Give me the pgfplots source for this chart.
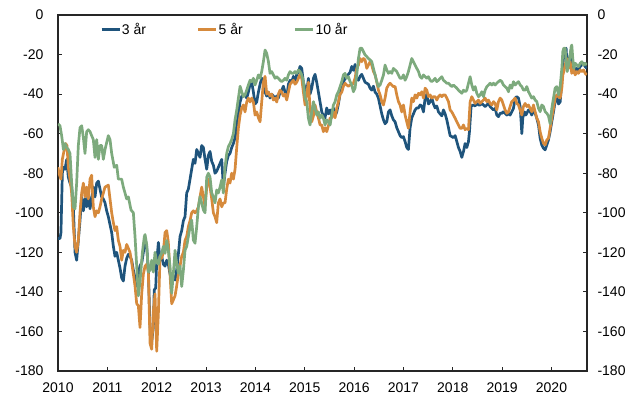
\documentclass[border=0pt]{standalone}
\usepackage{fontspec}
\setmainfont{Liberation Sans}
\usepackage{pgfplots}
\pgfplotsset{compat=1.18}
\definecolor{cA}{RGB}{31,84,124}
\definecolor{cB}{RGB}{214,138,60}
\definecolor{cC}{RGB}{125,170,125}
\begin{document}
\begin{tikzpicture}
\begin{axis}[name=main, scale only axis, width=529pt, height=356pt,
  xmin=2010, xmax=2020.72, ymin=-180, ymax=0,
  xtick={2010,2011,2012,2013,2014,2015,2016,2017,2018,2019,2020},
  xticklabels={2010,2011,2012,2013,2014,2015,2016,2017,2018,2019,2020},
  ytick={-180,-160,-140,-120,-100,-80,-60,-40,-20,0},
  yticklabels={-180,-160,-140,-120,-100,-80,-60,-40,-20,0},
  tick align=inside, xtick pos=bottom, ytick pos=both,
  major tick length=4pt, tick style={black!85, line width=0.8pt},
  axis line style={black!85, line width=1.1pt},
  ticklabel style={font=\fontsize{14pt}{16pt}\selectfont},
  yticklabel style={xshift=-11pt},
  xticklabel style={yshift=-8pt},
  legend columns=3,
  legend style={at={(0.0794,0.96)}, anchor=west, draw=none, fill=none, inner sep=0pt,
    font=\fontsize{14pt}{16pt}\selectfont, nodes={inner sep=1pt},
    /tikz/every even column/.append style={column sep=50pt}},
  legend image code/.code={\draw[#1] (0pt,0pt) -- (18pt,0pt);},
  every axis plot/.append style={line width=2.7pt, line join=round},
]
\addplot[cA] coordinates {(2010.000,-113)(2010.040,-113)(2010.060,-110)(2010.088,-80)(2010.108,-77)(2010.142,-78)(2010.176,-73)(2010.209,-82)(2010.243,-85)(2010.277,-87)(2010.311,-97)(2010.345,-120)(2010.378,-124)(2010.412,-114)(2010.446,-104)(2010.480,-92)(2010.514,-99)(2010.547,-93)(2010.581,-97)(2010.615,-90)(2010.649,-98)(2010.682,-93)(2010.716,-87)(2010.750,-92)(2010.784,-85)(2010.818,-84)(2010.851,-88)(2010.885,-92)(2010.919,-93)(2010.953,-95)(2010.986,-99)(2011.020,-102)(2011.054,-106)(2011.088,-110)(2011.122,-117)(2011.155,-122)(2011.189,-120)(2011.223,-124)(2011.257,-128)(2011.291,-133)(2011.324,-134.5)(2011.358,-127)(2011.392,-123)(2011.426,-121)(2011.459,-122)(2011.493,-124)(2011.527,-129)(2011.561,-133)(2011.595,-137)(2011.630,-131)(2011.660,-127)(2011.700,-125)(2011.730,-120)(2011.763,-113)(2011.797,-117)(2011.831,-129)(2011.865,-158)(2011.899,-165)(2011.932,-158)(2011.950,-139)(2011.980,-138)(2012.000,-125)(2012.034,-115)(2012.068,-124)(2012.101,-122)(2012.135,-126)(2012.169,-127)(2012.203,-124)(2012.236,-126)(2012.270,-131)(2012.304,-131)(2012.338,-132)(2012.372,-134)(2012.405,-129)(2012.439,-121)(2012.473,-112)(2012.507,-109)(2012.541,-104)(2012.574,-102)(2012.608,-90)(2012.642,-88)(2012.676,-83)(2012.709,-78)(2012.743,-73)(2012.777,-75)(2012.811,-68)(2012.845,-70)(2012.878,-72)(2012.912,-66)(2012.946,-67)(2012.980,-73)(2013.014,-78)(2013.047,-71)(2013.081,-69)(2013.115,-74)(2013.149,-76)(2013.182,-80)(2013.216,-79)(2013.250,-77)(2013.284,-75)(2013.318,-73)(2013.351,-87)(2013.385,-80)(2013.419,-74)(2013.453,-71)(2013.486,-70)(2013.520,-67)(2013.554,-65)(2013.588,-62)(2013.622,-56)(2013.656,-50)(2013.690,-44)(2013.723,-41)(2013.757,-41)(2013.790,-40)(2013.824,-42)(2013.858,-39)(2013.892,-35)(2013.926,-34)(2013.960,-39)(2013.993,-45)(2014.027,-44)(2014.061,-39)(2014.095,-35)(2014.128,-32)(2014.162,-33)(2014.196,-39)(2014.230,-41)(2014.264,-39)(2014.297,-42)(2014.331,-40)(2014.365,-41)(2014.399,-42)(2014.433,-41)(2014.466,-42)(2014.500,-39)(2014.534,-38)(2014.568,-36)(2014.601,-39)(2014.635,-42)(2014.669,-35)(2014.703,-33)(2014.737,-34)(2014.770,-31)(2014.804,-34)(2014.838,-30)(2014.872,-29)(2014.905,-26)(2014.939,-27)(2014.973,-34)(2015.007,-37)(2015.041,-39)(2015.074,-32)(2015.108,-40)(2015.142,-37)(2015.176,-32)(2015.209,-30)(2015.243,-34)(2015.277,-39)(2015.311,-44)(2015.345,-49)(2015.378,-51)(2015.412,-52)(2015.446,-47)(2015.480,-50)(2015.514,-48)(2015.547,-51)(2015.581,-47)(2015.615,-51)(2015.649,-49)(2015.682,-45)(2015.716,-40)(2015.750,-37)(2015.784,-34)(2015.818,-32)(2015.851,-31)(2015.885,-30)(2015.919,-29)(2015.953,-26)(2015.986,-28)(2016.020,-25)(2016.054,-32)(2016.088,-33)(2016.122,-31)(2016.155,-30)(2016.189,-32)(2016.223,-34)(2016.257,-34.5)(2016.290,-35)(2016.324,-37)(2016.358,-38)(2016.392,-36)(2016.426,-39)(2016.459,-40)(2016.493,-42)(2016.527,-46)(2016.561,-50)(2016.595,-53)(2016.628,-55)(2016.662,-54)(2016.696,-49)(2016.730,-48)(2016.764,-51)(2016.797,-53)(2016.831,-54)(2016.865,-57)(2016.899,-59)(2016.932,-61)(2016.966,-62)(2017.000,-61.5)(2017.034,-64)(2017.067,-67)(2017.101,-68)(2017.135,-57)(2017.169,-52)(2017.203,-50)(2017.236,-48)(2017.270,-47)(2017.305,-47)(2017.338,-45.5)(2017.372,-46)(2017.406,-49)(2017.440,-42)(2017.473,-40)(2017.507,-45)(2017.541,-44)(2017.575,-42)(2017.609,-45)(2017.642,-47)(2017.676,-46)(2017.710,-49)(2017.744,-50)(2017.778,-51)(2017.811,-48)(2017.845,-50)(2017.879,-53)(2017.913,-57)(2017.946,-61)(2017.980,-61.5)(2018.014,-62)(2018.048,-61)(2018.082,-64)(2018.115,-67)(2018.149,-69)(2018.183,-72)(2018.217,-69)(2018.250,-65)(2018.284,-67)(2018.318,-64)(2018.338,-59)(2018.372,-46)(2018.419,-45.5)(2018.453,-46)(2018.487,-44.7)(2018.521,-45.5)(2018.555,-45.5)(2018.588,-44.7)(2018.622,-45.5)(2018.656,-46.3)(2018.690,-45.5)(2018.723,-44.7)(2018.757,-46.3)(2018.791,-47.2)(2018.825,-48)(2018.858,-47.2)(2018.892,-50.6)(2018.926,-51.4)(2018.960,-49.7)(2018.994,-49.7)(2019.027,-48.9)(2019.061,-49.7)(2019.095,-50.6)(2019.129,-49.7)(2019.162,-50.6)(2019.196,-48.9)(2019.230,-47.2)(2019.264,-42)(2019.297,-41.3)(2019.331,-42)(2019.365,-46.3)(2019.385,-54)(2019.399,-60)(2019.419,-52)(2019.453,-49)(2019.480,-50.6)(2019.500,-49.7)(2019.534,-48)(2019.568,-48.9)(2019.601,-50.6)(2019.635,-48)(2019.669,-49.7)(2019.703,-52.2)(2019.737,-55.6)(2019.770,-62.3)(2019.804,-65.7)(2019.838,-67.4)(2019.872,-68.2)(2019.906,-65.7)(2019.939,-63.2)(2019.973,-59)(2020.007,-53.9)(2020.041,-48.9)(2020.074,-43.8)(2020.108,-41.3)(2020.142,-45)(2020.176,-44)(2020.210,-33.7)(2020.230,-25.3)(2020.250,-20.2)(2020.277,-18.5)(2020.297,-16.8)(2020.318,-27)(2020.338,-21.9)(2020.358,-23.6)(2020.378,-20.2)(2020.399,-17.7)(2020.412,-27)(2020.446,-25.3)(2020.480,-28.6)(2020.514,-27)(2020.547,-27.8)(2020.581,-26.1)(2020.615,-25.3)(2020.649,-24.4)(2020.683,-26.1)(2020.716,-27)};
\addlegendentry{3 år}
\addplot[cB] coordinates {(2010.000,-77)(2010.020,-80)(2010.060,-83)(2010.088,-73)(2010.128,-68)(2010.155,-65)(2010.182,-66)(2010.209,-77)(2010.243,-83)(2010.277,-90)(2010.311,-107)(2010.345,-117)(2010.378,-120)(2010.412,-114)(2010.446,-100)(2010.480,-90)(2010.514,-85)(2010.547,-92)(2010.581,-87)(2010.615,-93)(2010.649,-83)(2010.682,-81)(2010.716,-97)(2010.750,-102)(2010.784,-99)(2010.818,-100)(2010.851,-97)(2010.885,-93)(2010.919,-90)(2010.953,-87)(2011.020,-86)(2011.054,-93)(2011.088,-100)(2011.122,-105)(2011.155,-109)(2011.189,-107)(2011.223,-114)(2011.257,-117)(2011.291,-124)(2011.324,-119)(2011.358,-120)(2011.392,-116)(2011.426,-118)(2011.459,-120)(2011.493,-125)(2011.527,-131)(2011.561,-137)(2011.595,-146)(2011.628,-147)(2011.662,-158)(2011.696,-141)(2011.730,-131)(2011.764,-127)(2011.800,-126)(2011.831,-130)(2011.865,-166)(2011.899,-169)(2011.932,-150)(2011.966,-141)(2012.000,-170)(2012.034,-151)(2012.068,-122)(2012.101,-123)(2012.135,-120)(2012.169,-110)(2012.203,-109)(2012.236,-115)(2012.270,-131)(2012.304,-146)(2012.338,-144)(2012.372,-142)(2012.405,-137)(2012.439,-131)(2012.473,-127)(2012.507,-122)(2012.541,-120)(2012.574,-114)(2012.608,-112)(2012.642,-107)(2012.676,-104)(2012.709,-100)(2012.743,-99)(2012.777,-100)(2012.811,-99)(2012.845,-97)(2012.878,-92)(2012.912,-87)(2012.946,-92)(2012.980,-97)(2013.014,-87)(2013.047,-83)(2013.081,-87)(2013.115,-93)(2013.149,-100)(2013.182,-102)(2013.216,-105)(2013.250,-95)(2013.284,-93)(2013.318,-97)(2013.351,-95)(2013.385,-95)(2013.419,-88)(2013.453,-83)(2013.486,-85)(2013.520,-80)(2013.554,-83)(2013.588,-78)(2013.622,-67)(2013.656,-57)(2013.690,-50.6)(2013.723,-47)(2013.757,-45.5)(2013.790,-49)(2013.824,-44)(2013.858,-42)(2013.892,-44)(2013.926,-42)(2013.960,-44)(2013.993,-50.6)(2014.027,-49)(2014.061,-52)(2014.095,-54)(2014.128,-44)(2014.162,-34)(2014.196,-31)(2014.230,-40)(2014.264,-39)(2014.297,-41)(2014.331,-40)(2014.365,-43)(2014.399,-42)(2014.433,-44)(2014.466,-40)(2014.500,-38)(2014.534,-39)(2014.568,-41)(2014.601,-40)(2014.635,-43)(2014.669,-39)(2014.703,-35)(2014.737,-34)(2014.770,-33)(2014.804,-35)(2014.838,-34)(2014.872,-32)(2014.905,-30)(2014.939,-32)(2014.973,-39)(2015.007,-45.5)(2015.041,-40)(2015.074,-34)(2015.108,-47)(2015.142,-54)(2015.176,-51)(2015.209,-45.5)(2015.243,-49)(2015.277,-52)(2015.311,-55.6)(2015.345,-55.6)(2015.378,-59)(2015.412,-57)(2015.446,-59)(2015.480,-56)(2015.514,-52)(2015.547,-52)(2015.581,-49)(2015.615,-52)(2015.649,-47)(2015.682,-44)(2015.716,-40)(2015.750,-39)(2015.784,-36)(2015.818,-34.5)(2015.851,-35.4)(2015.885,-36)(2015.919,-35.4)(2015.953,-35.4)(2015.986,-34.5)(2016.020,-32)(2016.054,-27)(2016.088,-25.3)(2016.122,-22)(2016.155,-23.6)(2016.189,-22)(2016.223,-22.7)(2016.257,-27)(2016.290,-25.3)(2016.324,-23.6)(2016.358,-25.3)(2016.392,-28.6)(2016.426,-30.3)(2016.459,-33.7)(2016.493,-38)(2016.527,-40.4)(2016.561,-43.8)(2016.595,-45.5)(2016.628,-42)(2016.662,-37)(2016.696,-35.4)(2016.730,-34.5)(2016.764,-35.4)(2016.797,-36.2)(2016.831,-36.2)(2016.865,-40.4)(2016.899,-43.8)(2016.932,-45.5)(2016.966,-49)(2017.000,-45.5)(2017.034,-50.6)(2017.067,-54)(2017.101,-57.3)(2017.135,-49)(2017.169,-42)(2017.203,-43.8)(2017.236,-40.4)(2017.271,-42)(2017.305,-39.6)(2017.338,-40.4)(2017.372,-38.8)(2017.406,-42)(2017.440,-37)(2017.473,-38)(2017.507,-41.3)(2017.541,-40.4)(2017.575,-42)(2017.609,-41.3)(2017.642,-41.3)(2017.676,-43)(2017.710,-41.3)(2017.744,-40.4)(2017.778,-41.3)(2017.811,-40.4)(2017.845,-40.4)(2017.879,-42)(2017.913,-43.8)(2017.946,-48)(2017.980,-49)(2018.014,-50.6)(2018.048,-52.2)(2018.082,-54)(2018.115,-55.6)(2018.149,-57.3)(2018.183,-57.3)(2018.217,-55.6)(2018.250,-58)(2018.284,-57.3)(2018.318,-58)(2018.352,-43.8)(2018.385,-41.3)(2018.419,-43)(2018.453,-44.7)(2018.487,-43.8)(2018.521,-43)(2018.555,-44.7)(2018.588,-43.8)(2018.622,-43)(2018.656,-42)(2018.690,-43.8)(2018.723,-43)(2018.757,-44.7)(2018.791,-45.5)(2018.825,-43.8)(2018.858,-44.7)(2018.892,-48)(2018.926,-43.8)(2018.960,-42)(2018.994,-43)(2019.027,-45.5)(2019.061,-48)(2019.095,-49.7)(2019.129,-48.9)(2019.162,-46.3)(2019.196,-43.8)(2019.230,-43)(2019.264,-42)(2019.297,-44.7)(2019.331,-45.5)(2019.365,-48)(2019.399,-50.6)(2019.432,-46.3)(2019.466,-44.7)(2019.500,-46.3)(2019.534,-45.5)(2019.568,-47.2)(2019.601,-48.9)(2019.635,-45.5)(2019.669,-48.9)(2019.703,-52.2)(2019.737,-54)(2019.770,-59)(2019.804,-62.3)(2019.838,-64.9)(2019.872,-65.7)(2019.906,-63.2)(2019.939,-62.3)(2019.973,-57.3)(2020.007,-52.2)(2020.041,-47.2)(2020.074,-42)(2020.108,-40.4)(2020.142,-41.3)(2020.176,-42)(2020.210,-37)(2020.230,-30.3)(2020.250,-28.6)(2020.277,-25.3)(2020.311,-22)(2020.345,-27)(2020.378,-23.6)(2020.412,-29.5)(2020.446,-27)(2020.480,-30.3)(2020.514,-28.6)(2020.547,-29.5)(2020.581,-27.8)(2020.615,-28.6)(2020.649,-27.8)(2020.683,-29.5)(2020.716,-30.3)};
\addlegendentry{5 år}
\addplot[cC] coordinates {(2010.000,-55)(2010.040,-56)(2010.074,-61)(2010.110,-68)(2010.142,-65)(2010.176,-67)(2010.209,-68)(2010.243,-70)(2010.277,-85)(2010.311,-97)(2010.345,-98)(2010.378,-85)(2010.412,-66)(2010.446,-57)(2010.480,-56)(2010.514,-62)(2010.547,-70)(2010.581,-59)(2010.615,-58)(2010.649,-59)(2010.682,-61)(2010.716,-63)(2010.750,-72)(2010.784,-63)(2010.818,-73)(2010.851,-66)(2010.885,-66)(2010.919,-73)(2010.953,-68)(2011.020,-61)(2011.054,-63)(2011.088,-70)(2011.140,-77)(2011.190,-76)(2011.223,-83)(2011.290,-83)(2011.324,-87)(2011.358,-90)(2011.392,-93)(2011.426,-92)(2011.480,-98.6)(2011.527,-100)(2011.561,-112)(2011.595,-127)(2011.628,-142)(2011.662,-135)(2011.710,-120)(2011.750,-112)(2011.764,-111)(2011.797,-116)(2011.831,-130)(2011.865,-129)(2011.899,-124)(2011.932,-130)(2011.966,-120)(2012.000,-125)(2012.034,-126)(2012.068,-122)(2012.101,-120.5)(2012.135,-117)(2012.169,-120.5)(2012.203,-114)(2012.236,-119)(2012.270,-127)(2012.304,-140.7)(2012.338,-130.6)(2012.372,-119)(2012.405,-125.6)(2012.439,-130.6)(2012.473,-127)(2012.507,-137.3)(2012.541,-129)(2012.574,-119)(2012.608,-117)(2012.642,-112)(2012.676,-107)(2012.709,-103.6)(2012.743,-113.8)(2012.777,-115.4)(2012.811,-107)(2012.845,-97)(2012.878,-91.8)(2012.912,-95)(2012.946,-98.6)(2012.980,-100)(2013.014,-82)(2013.047,-80)(2013.081,-82)(2013.115,-90)(2013.149,-92)(2013.182,-95)(2013.216,-88.5)(2013.250,-90)(2013.284,-87)(2013.318,-83.4)(2013.351,-90)(2013.385,-77)(2013.419,-70)(2013.453,-66.5)(2013.486,-65)(2013.520,-63)(2013.554,-60)(2013.588,-53)(2013.622,-48)(2013.656,-42)(2013.690,-36)(2013.723,-38.8)(2013.757,-41.3)(2013.790,-40.4)(2013.824,-38)(2013.858,-35.4)(2013.892,-33)(2013.926,-33.7)(2013.960,-32)(2013.993,-35.4)(2014.027,-33)(2014.061,-30.3)(2014.095,-32)(2014.128,-28.6)(2014.162,-23.6)(2014.196,-17.7)(2014.230,-19.4)(2014.264,-23.6)(2014.297,-29.5)(2014.331,-28.6)(2014.365,-30.3)(2014.399,-32)(2014.433,-31.2)(2014.466,-32)(2014.500,-33)(2014.534,-33.7)(2014.568,-33)(2014.601,-32)(2014.635,-33)(2014.669,-30.3)(2014.703,-28.6)(2014.737,-29.5)(2014.770,-29.5)(2014.804,-28.6)(2014.838,-29.5)(2014.872,-27.8)(2014.905,-28.6)(2014.939,-30.3)(2014.973,-33.7)(2015.007,-42)(2015.041,-43.8)(2015.074,-52.2)(2015.108,-55.6)(2015.142,-49)(2015.176,-43.8)(2015.209,-47.2)(2015.243,-50.6)(2015.277,-49)(2015.311,-52.2)(2015.345,-50.6)(2015.378,-52.2)(2015.412,-55.6)(2015.446,-53)(2015.480,-54)(2015.514,-55.6)(2015.547,-50.6)(2015.581,-45.5)(2015.615,-43.8)(2015.649,-40.4)(2015.682,-38.8)(2015.716,-36.2)(2015.750,-33.7)(2015.784,-30.3)(2015.818,-29.5)(2015.851,-32)(2015.885,-31.2)(2015.919,-33.7)(2015.953,-35.4)(2015.986,-38.8)(2016.020,-37)(2016.054,-30.3)(2016.088,-22)(2016.122,-16.8)(2016.155,-16.8)(2016.189,-18.5)(2016.223,-20.2)(2016.257,-21)(2016.290,-22)(2016.324,-22.7)(2016.358,-23.6)(2016.392,-27)(2016.426,-30.3)(2016.459,-33.7)(2016.493,-36.2)(2016.527,-35.4)(2016.561,-33)(2016.595,-30.3)(2016.628,-25.3)(2016.662,-27.8)(2016.696,-29.5)(2016.730,-28.6)(2016.764,-29.5)(2016.797,-27)(2016.831,-27.8)(2016.865,-28.6)(2016.899,-30.3)(2016.932,-32)(2016.966,-32)(2017.000,-30.3)(2017.034,-33)(2017.067,-31.2)(2017.101,-28.6)(2017.135,-25.3)(2017.169,-22)(2017.203,-23.6)(2017.236,-25.3)(2017.271,-27)(2017.305,-28.6)(2017.338,-31.2)(2017.372,-32)(2017.406,-30.3)(2017.440,-31.2)(2017.473,-32)(2017.507,-31.2)(2017.541,-33)(2017.575,-33.7)(2017.609,-33)(2017.642,-32)(2017.676,-33.7)(2017.710,-33)(2017.744,-32)(2017.778,-31.2)(2017.811,-33)(2017.845,-33.7)(2017.879,-34.5)(2017.913,-34.5)(2017.946,-35.4)(2017.980,-36.2)(2018.014,-35.4)(2018.048,-36.2)(2018.082,-37)(2018.115,-38)(2018.149,-38.8)(2018.183,-39.6)(2018.217,-38)(2018.250,-38.8)(2018.284,-38)(2018.318,-34.5)(2018.352,-31.2)(2018.385,-35.4)(2018.419,-38)(2018.453,-36.2)(2018.487,-39.6)(2018.521,-41.3)(2018.555,-40.4)(2018.588,-38.8)(2018.622,-41.3)(2018.656,-38)(2018.690,-36.2)(2018.723,-35.4)(2018.757,-34.5)(2018.791,-35.4)(2018.825,-34.5)(2018.858,-35.4)(2018.892,-34.5)(2018.926,-33.7)(2018.960,-33)(2018.994,-33.7)(2019.027,-35.4)(2019.061,-36.2)(2019.095,-37)(2019.129,-38.8)(2019.162,-35.4)(2019.196,-37)(2019.230,-33.7)(2019.264,-35.4)(2019.297,-34.5)(2019.331,-33.7)(2019.365,-35.4)(2019.399,-36.2)(2019.432,-38)(2019.466,-38)(2019.500,-36.2)(2019.534,-38.8)(2019.568,-40.4)(2019.601,-42)(2019.635,-41.3)(2019.669,-43)(2019.703,-43.8)(2019.737,-47.2)(2019.770,-48.9)(2019.804,-45.5)(2019.838,-46.3)(2019.872,-48.9)(2019.906,-49.7)(2019.939,-51)(2019.973,-55)(2020.007,-47.2)(2020.041,-42)(2020.074,-37)(2020.108,-36.2)(2020.142,-40.4)(2020.176,-36.2)(2020.210,-27)(2020.230,-18.5)(2020.250,-16.8)(2020.277,-16.8)(2020.297,-23.6)(2020.318,-28.6)(2020.345,-25.3)(2020.378,-20.2)(2020.399,-16)(2020.412,-15.2)(2020.432,-22)(2020.453,-27)(2020.480,-24.4)(2020.514,-25.3)(2020.547,-26.1)(2020.581,-24.4)(2020.615,-23.6)(2020.649,-25.3)(2020.683,-24.4)(2020.716,-25.3)};
\addlegendentry{10 år}
\end{axis}
\begin{axis}[scale only axis, width=529pt, height=356pt,
  xmin=2010, xmax=2020.72, ymin=-180, ymax=0,
  hide x axis, axis y line*=right,
  ytick={-180,-160,-140,-120,-100,-80,-60,-40,-20,0},
  yticklabels={-180,-160,-140,-120,-100,-80,-60,-40,-20,0},
  major tick length=0pt, tick style={draw=none}, axis line style={draw=none},
  ticklabel style={font=\fontsize{14pt}{16pt}\selectfont},
  yticklabel style={xshift=7pt},
]
\addplot[draw=none] coordinates {(2010,-100)(2020,-100)};
\end{axis}
\pgfresetboundingbox
\path ([xshift=-58pt,yshift=-32pt]main.south west) rectangle ([xshift=53pt,yshift=15pt]main.north east);
\end{tikzpicture}
\end{document}
